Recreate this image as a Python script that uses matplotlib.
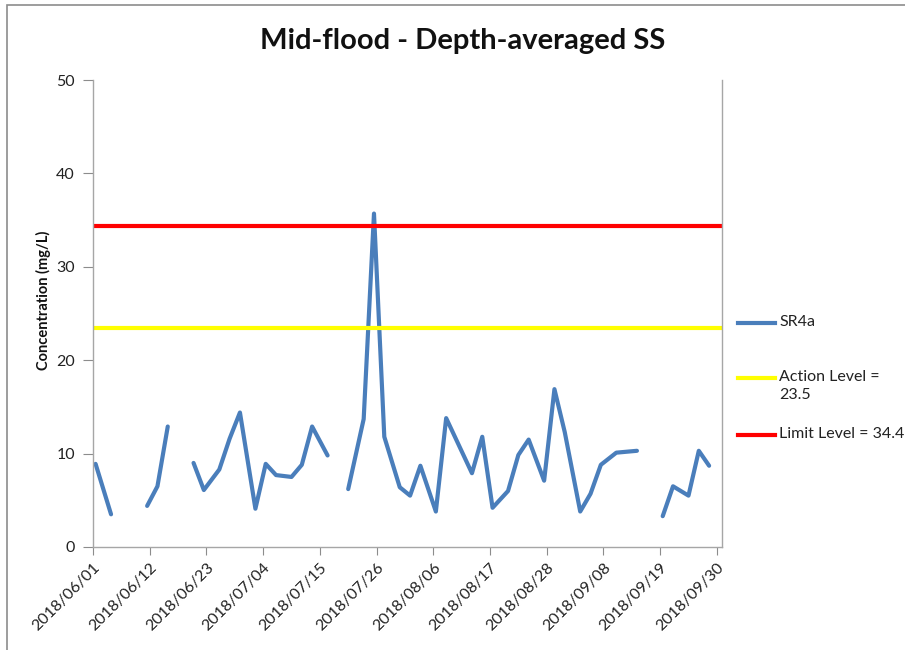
import numpy as np
import matplotlib
matplotlib.use("Agg")
import matplotlib.pyplot as plt
import matplotlib.dates as mdates
from matplotlib.lines import Line2D
from matplotlib.patches import Rectangle
import datetime as dt

plt.rcParams['font.family'] = ['Lato', 'DejaVu Sans']

dates = ['2018-06-01', '2018-06-04', '2018-06-06', '2018-06-08', '2018-06-11', '2018-06-13',
         '2018-06-15', '2018-06-18', '2018-06-20', '2018-06-22', '2018-06-25', '2018-06-27',
         '2018-06-29', '2018-07-02', '2018-07-04', '2018-07-06', '2018-07-09', '2018-07-11',
         '2018-07-13', '2018-07-16', '2018-07-18', '2018-07-20', '2018-07-23', '2018-07-25',
         '2018-07-27', '2018-07-30', '2018-08-01', '2018-08-03', '2018-08-06', '2018-08-08',
         '2018-08-13', '2018-08-15', '2018-08-17', '2018-08-20', '2018-08-22', '2018-08-24',
         '2018-08-27', '2018-08-29', '2018-08-31', '2018-09-03', '2018-09-05', '2018-09-07',
         '2018-09-10', '2018-09-14', '2018-09-17', '2018-09-19', '2018-09-21', '2018-09-24',
         '2018-09-26', '2018-09-28']
sr4a = [8.9, 3.5, np.nan, np.nan, 4.4, 6.5,
        12.9, np.nan, 9.0, 6.1, 8.3, 11.6,
        14.4, 4.1, 8.9, 7.7, 7.5, 8.8,
        12.9, 9.8, np.nan, 6.2, 13.7, 35.7,
        11.8, 6.4, 5.5, 8.7, 3.8, 13.8,
        7.9, 11.8, 4.2, 6.0, 9.85, 11.5,
        7.1, 16.9, 12.3, 3.8, 5.7, 8.8,
        10.1, 10.3, np.nan, 3.3, 6.5, 5.5,
        10.3, 8.7]
action_level = 23.5
limit_level = 34.4
tick_dates = ['2018-06-01', '2018-06-12', '2018-06-23', '2018-07-04', '2018-07-15', '2018-07-26',
              '2018-08-06', '2018-08-17', '2018-08-28', '2018-09-08', '2018-09-19', '2018-09-30']
tick_labels = [d.replace('-', '/') for d in tick_dates]
y_ticks = [0, 10, 20, 30, 40, 50]

def to_dt(s):
    return dt.datetime.strptime(s, '%Y-%m-%d')

W, H = 905, 650
fig = plt.figure(figsize=(W / 100, H / 100), dpi=100)
fig.patch.set_facecolor('white')

# outer chart border (cropped on right/bottom)
fig.add_artist(Rectangle((7 / W, -0.1), 1.2, (H - 4.5) / H + 0.1, transform=fig.transFigure,
                         fill=False, edgecolor='#8c8c8c', linewidth=1.2))

ax = fig.add_axes([93 / W, 1 - 547 / H, (722 - 93) / W, (547 - 80) / H])
# points sit in the middle of each day's slot, as on a date axis
x = [to_dt(d) + dt.timedelta(hours=12) for d in dates]
blue = '#4A7EBB'
ax.plot(x, sr4a, color=blue, linewidth=3.0, solid_capstyle='round', solid_joinstyle='round')
ax.axhline(action_level, color='#FFFF00', linewidth=3.0)
ax.axhline(limit_level, color='#FF0000', linewidth=3.0)

ax.set_xlim(to_dt('2018-06-01'), to_dt('2018-10-01'))
ax.set_ylim(0, 50)
ax.set_xticks([mdates.date2num(to_dt(d)) for d in tick_dates])
ax.set_xticklabels(tick_labels, rotation=45, ha='right', va='top', rotation_mode='anchor',
                   fontsize=11.5, color='#222222')
ax.set_yticks(y_ticks)
ax.set_yticklabels([str(v) for v in y_ticks], fontsize=11.5, color='#222222')
ax.tick_params(axis='x', length=6, color='#8c8c8c', pad=4)
ax.tick_params(axis='y', length=7, color='#8c8c8c', pad=6)
for sp in ['left', 'bottom', 'right']:
    ax.spines[sp].set_color('#a6a6a6')
    ax.spines[sp].set_linewidth(1.0)
ax.spines['top'].set_visible(False)

fig.text(463 / W, 1 - 41 / H, 'Mid-flood - Depth-averaged SS', ha='center', va='center',
         fontsize=21, fontweight='bold', color='#111111')
fig.text(43 / W, 1 - 300 / H, 'Concentration (mg/L)', rotation=90, ha='center', va='center',
         fontsize=10.5, fontweight='bold', color='#111111')

# legend
leg_items = [(blue, 'SR4a', 323), ('#FFFF00', 'Action Level =\n23.5', 378), ('#FF0000', 'Limit Level = 34.4', 435)]
for col, lab, yy in leg_items:
    fig.add_artist(Line2D([738 / W, 775 / W], [1 - yy / H, 1 - yy / H], transform=fig.transFigure,
                          color=col, linewidth=3.0))
    fig.text(779 / W, 1 - (yy - 8) / H, lab, ha='left', va='top', fontsize=11.5, color='#222222',
             linespacing=1.35)

fig.savefig('out.png', dpi=100)
